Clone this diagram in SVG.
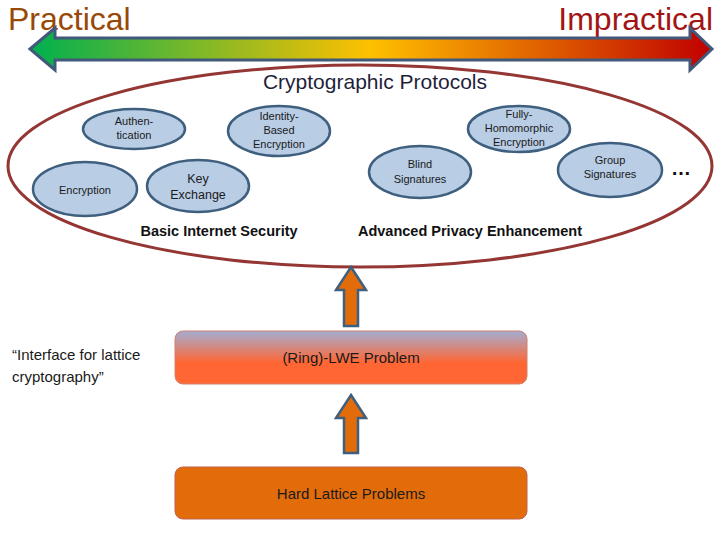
<svg xmlns="http://www.w3.org/2000/svg" width="720" height="540" viewBox="0 0 720 540">
<defs>
<linearGradient id="spectrum" x1="0" y1="0" x2="1" y2="0">
<stop offset="0" stop-color="#00B050"/>
<stop offset="0.5" stop-color="#FFC000"/>
<stop offset="1" stop-color="#C00000"/>
</linearGradient>
<linearGradient id="lwe" x1="0" y1="0" x2="0" y2="1">
<stop offset="0" stop-color="#A3AED2"/>
<stop offset="0.6" stop-color="#FF6633"/>
<stop offset="1" stop-color="#FF6633"/>
</linearGradient>
<style>
text{font-family:"Liberation Sans",Arial,sans-serif;}
.sm{font-size:11px;fill:#1a1a1a;text-anchor:middle;}
.md{font-size:12.5px;fill:#1a1a1a;text-anchor:middle;}
.bold{font-size:14.5px;font-weight:bold;fill:#111;}
.node ellipse{fill:#B9CDE5;stroke:#3F5F7F;stroke-width:2.5;}
.up{fill:#E36C0A;stroke:#3F5F7F;stroke-width:2.5;stroke-linejoin:miter;}
.box text{font-size:15px;fill:#1a1a1a;text-anchor:middle;}
</style>
</defs>
<rect width="720" height="540" fill="#fff"/>
<text x="8" y="30" font-size="32" fill="#984807">Practical</text>
<text x="713" y="30" font-size="32" fill="#A31515" text-anchor="end">Impractical</text>
<path d="M30,49 L55,28 L55,38 L690,38 L690,28 L712,49 L690,70 L690,60 L55,60 L55,70 Z" fill="url(#spectrum)" stroke="#41597A" stroke-width="3" stroke-linejoin="miter"/>
<ellipse cx="360" cy="166" rx="352" ry="101" fill="none" stroke="#943634" stroke-width="3"/>
<text x="375" y="89" font-size="21" fill="#1F1F3A" text-anchor="middle">Cryptographic Protocols</text>
<g id="authentication" class="node"><ellipse cx="134" cy="129" rx="51" ry="20"/><text class="sm" x="134" y="125">Authen-</text><text class="sm" x="134" y="139">tication</text></g>
<g id="ibe" class="node"><ellipse cx="279" cy="131" rx="51" ry="25"/><text class="sm" x="279" y="120">Identity-</text><text class="sm" x="279" y="134">Based</text><text class="sm" x="279" y="148">Encryption</text></g>
<g id="encryption" class="node"><ellipse cx="85" cy="189" rx="52" ry="27"/><text class="sm" x="85" y="194">Encryption</text></g>
<g id="keyexchange" class="node"><ellipse cx="198" cy="186" rx="51" ry="26"/><text class="md" x="198" y="183">Key</text><text class="md" x="198" y="199">Exchange</text></g>
<g id="fhe" class="node"><ellipse cx="519" cy="129" rx="51" ry="23"/><text class="sm" x="519" y="118">Fully-</text><text class="sm" x="519" y="132">Homomorphic</text><text class="sm" x="519" y="146">Encryption</text></g>
<g id="blind" class="node"><ellipse cx="420" cy="172" rx="51" ry="26"/><text class="sm" x="420" y="168">Blind</text><text class="sm" x="420" y="183">Signatures</text></g>
<g id="group" class="node"><ellipse cx="610" cy="170" rx="52" ry="27"/><text class="sm" x="610" y="164">Group</text><text class="sm" x="610" y="178">Signatures</text></g>
<text x="681" y="175" font-size="20" font-weight="bold" fill="#111" text-anchor="middle">…</text>
<text class="bold" x="219" y="236" text-anchor="middle">Basic Internet Security</text>
<text class="bold" x="470" y="236" text-anchor="middle">Advanced Privacy Enhancement</text>
<g id="connectors">
<path class="up" d="M351,267 L366,290 L358,290 L358,326 L344,326 L344,290 L336,290 Z"/>
<path class="up" d="M351,395 L366,418 L358,418 L358,453 L344,453 L344,418 L336,418 Z"/>
</g>
<g id="lwe-box" class="box"><rect x="175" y="331" width="352" height="53" rx="8" fill="url(#lwe)" stroke="#D08070" stroke-width="1"/><text x="351" y="363">(Ring)-LWE Problem</text></g>
<text x="12" y="360" font-size="15" fill="#1a1a1a">“Interface for lattice</text>
<text x="12" y="382" font-size="15" fill="#1a1a1a">cryptography”</text>
<g id="hard-box" class="box"><rect x="175" y="467" width="352" height="52" rx="8" fill="#E36C0A" stroke="#C0604D" stroke-width="1"/><text x="351" y="499">Hard Lattice Problems</text></g>
</svg>
